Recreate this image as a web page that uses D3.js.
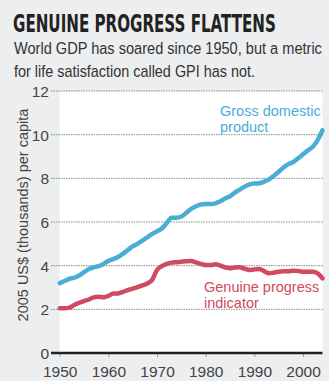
<!DOCTYPE html>
<html><head><meta charset="utf-8">
<script src="https://cdn.jsdelivr.net/npm/d3@7"></script>
<style>
html,body{margin:0;padding:0;background:#eceef0;}
svg{display:block;}
</style></head>
<body>
<svg id="chart" width="329" height="381"></svg>
<script>
const years = d3.range(1950, 2005);
const gdpValues = [3.2,3.3,3.4,3.45,3.55,3.7,3.85,3.92,3.98,4.08,
 4.22,4.3,4.4,4.55,4.72,4.88,5.0,5.15,5.3,5.45,
 5.58,5.7,5.95,6.2,6.2,6.25,6.42,6.6,6.72,6.8,
 6.82,6.82,6.85,6.95,7.08,7.18,7.35,7.48,7.62,7.72,
 7.76,7.77,7.85,7.95,8.12,8.3,8.5,8.65,8.75,8.92,
 9.1,9.28,9.45,9.75,10.2];
const gpiValues = [2.05,2.05,2.08,2.2,2.3,2.38,2.45,2.55,2.58,2.55,
 2.62,2.72,2.73,2.8,2.88,2.95,3.02,3.1,3.18,3.35,
 3.8,3.98,4.08,4.14,4.16,4.18,4.2,4.21,4.15,4.08,
 4.03,4.03,4.06,4.0,3.92,3.88,3.92,3.93,3.86,3.8,
 3.83,3.85,3.75,3.65,3.68,3.72,3.74,3.74,3.77,3.76,
 3.72,3.72,3.72,3.65,3.42];
const yTicks = [0,2,4,6,8,10,12];
const xTicks = [1950,1960,1970,1980,1990,2000];
const title = "GENUINE PROGRESS FLATTENS";
const subtitle = ["World GDP has soared since 1950, but a metric","for life satisfaction called GPI has not."];
const yLabel = "2005 US$ (thousands) per capita";
const gdpLabel = ["Gross domestic","product"];
const gpiLabel = ["Genuine progress","indicator"];

const svg = d3.select("#chart");
const blue = "#4aadd6", red = "#d24a60";
const x = d3.scaleLinear().domain([1950, 2004]).range([59.7, 322.5]);
const y = d3.scaleLinear().domain([0, 12]).range([353, 91]);
const sans = "'Liberation Sans', Arial, sans-serif";
const narrow = "'Liberation Sans Narrow', 'DejaVu Sans Condensed', sans-serif";

// helper: squeeze a text horizontally to a target width
function fitWidth(sel, tx, ty, target) {
  const w = sel.node().getComputedTextLength();
  const k = w > 0 ? target / w : 1;
  sel.attr("x", 0).attr("y", 0).attr("transform", `translate(${tx},${ty}) scale(${k},1)`);
}

svg.append("rect").attr("x",0).attr("y",0).attr("width",329).attr("height",381).attr("fill","#eceef0");
svg.append("rect").attr("x",x(1950)).attr("y",y(12)).attr("width",x(2004)-x(1950)).attr("height",y(0)-y(12)).attr("fill","#ffffff");

const t = svg.append("text").text(title)
  .attr("font-family",narrow).attr("font-weight","bold").attr("font-size",24).attr("fill","#222");
fitWidth(t, 13, 32, 263);
const subLen = [308, 241];
subtitle.forEach((s,i)=>{
  const st = svg.append("text").text(s)
    .attr("font-family",sans).attr("font-size",16).attr("fill","#333");
  fitWidth(st, 14, 54+i*23, subLen[i]);
});

// gridlines
svg.append("g").selectAll("line").data(yTicks.filter(d=>d>0)).join("line")
  .attr("x1",51).attr("x2",x(2004)).attr("y1",d=>y(d)).attr("y2",d=>y(d))
  .attr("stroke","#888").attr("stroke-width",1).attr("stroke-dasharray","1.5,1");

// y axis labels
const yAxis = d3.axisLeft(y).tickValues(yTicks).tickSize(0).tickPadding(0).tickFormat(d3.format("d"));
const gy = svg.append("g").attr("transform","translate(49,0)").call(yAxis);
gy.select(".domain").remove();
gy.selectAll("text").attr("font-family",sans).attr("font-size",15.5).attr("fill","#444").attr("dy","0.35em");

// x axis
const xAxis = d3.axisBottom(x).tickValues(xTicks).tickSize(4).tickPadding(9).tickFormat(d3.format("d"));
const gx = svg.append("g").attr("transform",`translate(0,${y(0)})`).call(xAxis);
gx.select(".domain").remove();
gx.selectAll(".tick line").attr("stroke","#999");
gx.selectAll("text").attr("font-family",sans).attr("font-size",15.5).attr("fill","#444");
svg.append("line").attr("x1",51).attr("x2",x(2004)).attr("y1",y(0)).attr("y2",y(0)).attr("stroke","#222").attr("stroke-width",2.5);

// y label
svg.append("text").attr("transform",`translate(28,${(y(0)+y(12))/2 - 7}) rotate(-90)`)
  .attr("text-anchor","middle").text(yLabel)
  .attr("font-family",sans).attr("font-size",14.5).attr("fill","#444");

const line = d3.line().x((d,i)=>x(years[i])).y(d=>y(d)).curve(d3.curveMonotoneX);
svg.append("path").datum(gdpValues).attr("d",line).attr("fill","none").attr("stroke",blue).attr("stroke-width",4.5).attr("stroke-linecap","round");
svg.append("path").datum(gpiValues).attr("d",line).attr("fill","none").attr("stroke",red).attr("stroke-width",4.5).attr("stroke-linecap","round");

gdpLabel.forEach((s,i)=>{
  svg.append("text").attr("x",220).attr("y",116+i*16).text(s)
    .attr("font-family",sans).attr("font-size",14.5).attr("fill",blue);
});
gpiLabel.forEach((s,i)=>{
  svg.append("text").attr("x",204).attr("y",292+i*15.5).text(s)
    .attr("font-family",sans).attr("font-size",14.5).attr("fill",red);
});
</script>
</body></html>
